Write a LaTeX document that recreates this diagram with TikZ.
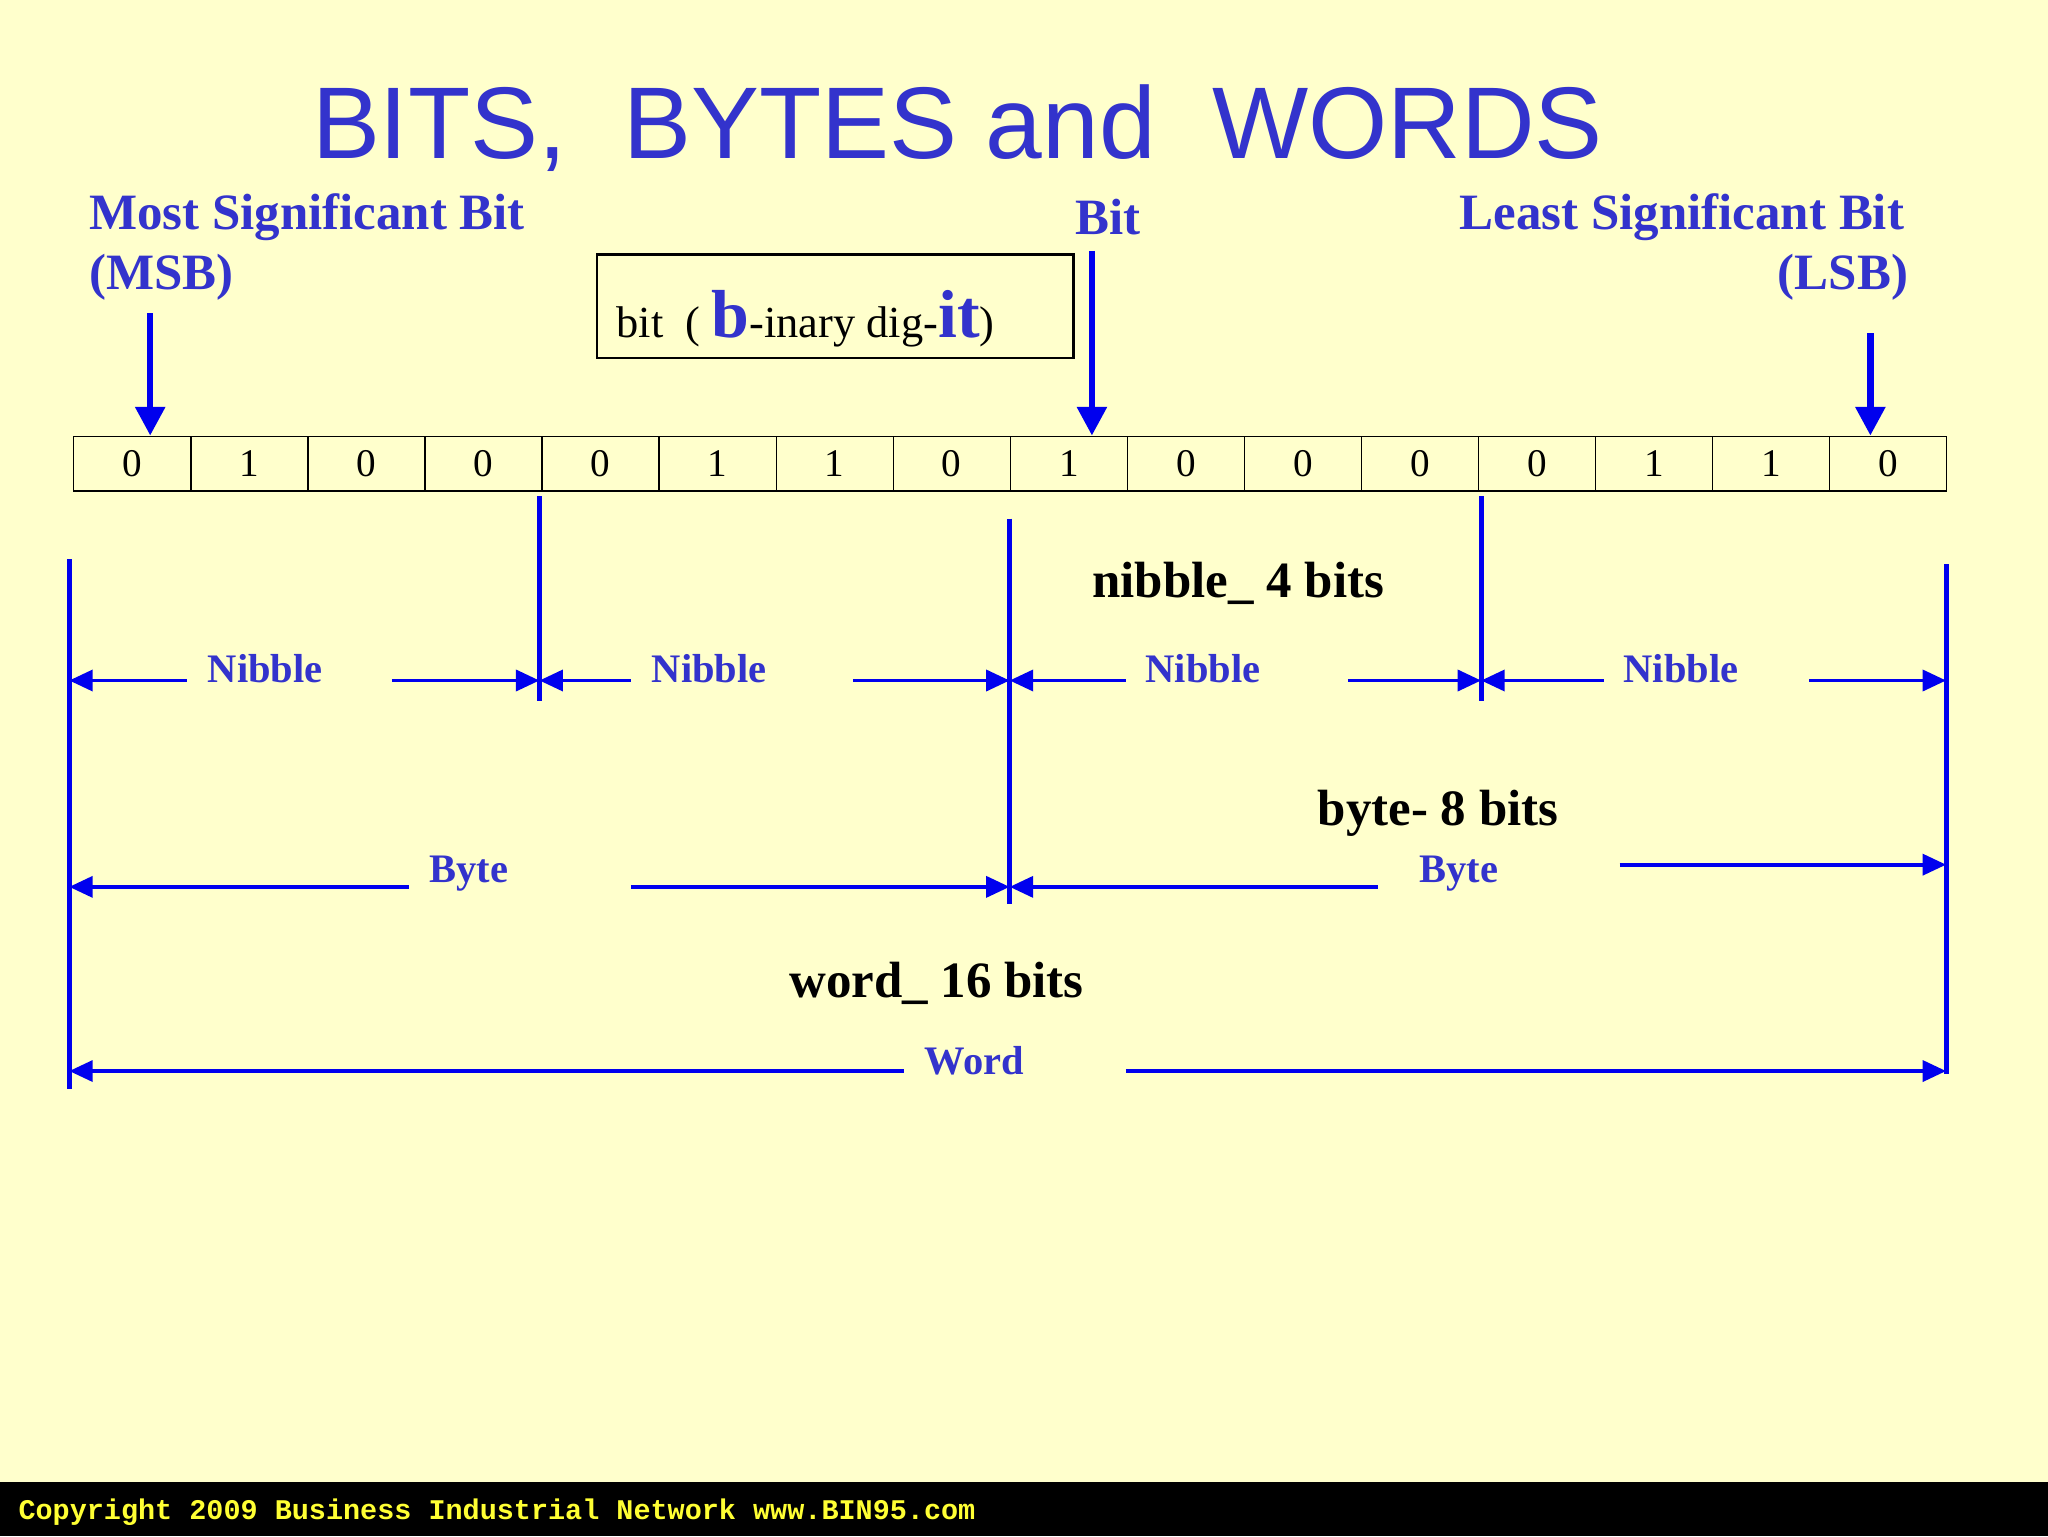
\documentclass[tikz,border=0pt]{standalone}
\usepackage{fontspec}
\setmainfont{Liberation Serif}
\newfontfamily\titlefont{Liberation Sans}
\newfontfamily\copyfont{Liberation Mono}
\usetikzlibrary{arrows.meta}
\definecolor{bg}{HTML}{FFFFCC}
\definecolor{tblue}{HTML}{3333CC}
\definecolor{ablue}{HTML}{0000EE}
\definecolor{cyel}{HTML}{FFFF33}
\tikzset{
  vline/.style={ablue,line width=4pt},
  dim/.style={ablue,line width=3pt},
  lt/.style={-{Triangle[length=18pt,width=16pt]}},
  bigarr/.style={ablue,line width=5pt,-{Triangle[length=22pt,width=22pt]}},
  lab/.style={tblue,font=\fontsize{31}{34}\selectfont\bfseries,inner sep=0pt},
  head/.style={tblue,font=\fontsize{39}{42}\selectfont\bfseries,inner sep=0pt},
  blk/.style={black,font=\fontsize{39}{42}\selectfont\bfseries,inner sep=0pt},
  cell/.style={draw=black,line width=1pt,minimum width=89.625pt,minimum height=42pt,inner sep=0pt,anchor=west,font=\fontsize{30}{34}\selectfont}
}
\begin{document}
\begin{tikzpicture}[x=1pt,y=-1pt]
\fill[bg] (0,0) rectangle (1568,1176);
\fill[black] (0,1135) rectangle (1568,1176);
\node[anchor=west,cyel,font=\copyfont\bfseries\fontsize{21.8}{23}\selectfont,inner sep=0pt] (copy) at (14,1158) {Copyright 2009 Business Industrial Network www.BIN95.com};
\node[tblue,font=\titlefont\fontsize{78}{84}\selectfont,inner sep=0pt] (title) at (733,98) {BITS,\ \ BYTES and\ \ WORDS};
\node[head,anchor=west] (msb1) at (68,166) {Most Significant Bit};
\node[head,anchor=west] (msb2) at (68,212) {(MSB)};
\node[head] (bitl) at (848,166) {Bit};
\node[head,anchor=east] (lsb1) at (1458,166) {Least Significant Bit};
\node[head,anchor=east] (lsb2) at (1461,212) {(LSB)};
\node[draw=black,line width=2pt,minimum width=365pt,minimum height=79pt,inner sep=0pt] (box) at (639.5,234.5) {};
\node[anchor=west,inner sep=0pt,font=\fontsize{34}{38}\selectfont] (boxt) at (472,244) {bit\ \ ( {\color{tblue}\bfseries\fontsize{52}{56}\selectfont b}-inary dig-{\color{tblue}\bfseries\fontsize{52}{56}\selectfont it})};
\foreach \d [count=\i from 0] in {0,1,0,0,0,1,1,0,1,0,0,0,0,1,1,0} {
  \node[cell] (c\i) at (56+\i*89.625,355) {\d};
}
\coordinate (msbs) at (115,240);
\coordinate (bits) at (836,192);
\coordinate (lsbs) at (1432,255);
\draw[bigarr] (msbs) -- (c0.north -| msbs);
\draw[bigarr] (bits) -- (c8.north -| bits);
\draw[bigarr] (lsbs) -- (c15.north -| lsbs);
\coordinate (v0a) at (53,428); \coordinate (v0b) at (53,834);
\coordinate (v1a) at (413,380); \coordinate (v1b) at (413,537);
\coordinate (v2a) at (773,397); \coordinate (v2b) at (773,692);
\coordinate (v3a) at (1134,380); \coordinate (v3b) at (1134,537);
\coordinate (v4a) at (1490,432); \coordinate (v4b) at (1490,822);
\foreach \v in {0,...,4} \draw[vline] (v\v a) -- (v\v b);
\node[blk] (nib) at (948,447) {nibble\_ 4 bits};
\node[blk] (byt) at (1101,623) {byte- 8 bits};
\node[blk] (wrd) at (717,753) {word\_ 16 bits};
\foreach \a/\b/\c/\d/\lx/\n in {53/143/300/413/203/n1, 413/483/653/773/543/n2, 773/862/1032/1134/921/n3, 1134/1228/1385/1490/1287/n4} {
  \node[lab] (\n) at (\lx,512) {Nibble};
  \coordinate (\n a) at (\b,521); \coordinate (\n b) at (\c,521);
  \coordinate (\n l) at (\a,521); \coordinate (\n r) at (\d,521);
  \draw[dim,lt] (\n a) -- (\n l);
  \draw[dim,lt] (\n b) -- (\n r);
}
\node[lab] (b1) at (359,669) {Byte};
\node[lab] (b2) at (1117,669) {Byte};
\coordinate (b1l) at (53,679); \coordinate (b1a) at (313,679);
\coordinate (b1b) at (483,679); \coordinate (b1r) at (773,679);
\coordinate (b2l) at (773,679); \coordinate (b2a) at (1055,679);
\coordinate (b2b) at (1240,662); \coordinate (b2r) at (1490,662);
\draw[dim,lt] (b1a) -- (b1l);
\draw[dim,lt] (b1b) -- (b1r);
\draw[dim,lt] (b2a) -- (b2l);
\draw[dim,lt] (b2b) -- (b2r);
\node[lab] (w) at (746,812) {Word};
\coordinate (wl) at (53,820); \coordinate (wa) at (692,820);
\coordinate (wb) at (862,820); \coordinate (wr) at (1490,820);
\draw[dim,lt] (wa) -- (wl);
\draw[dim,lt] (wb) -- (wr);
\end{tikzpicture}
\end{document}
